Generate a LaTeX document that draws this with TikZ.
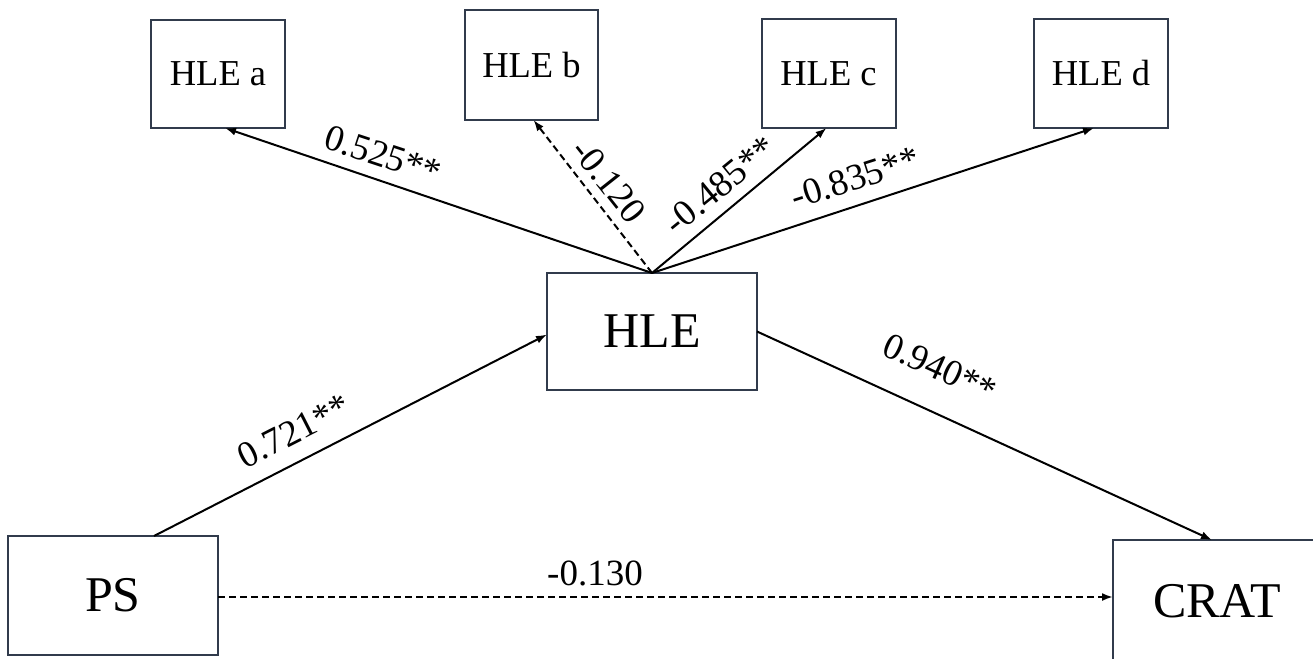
\documentclass[tikz,border=0pt]{standalone}
\usepackage{fontspec}
\setmainfont{Liberation Serif}
\usetikzlibrary{arrows.meta,calc}
\definecolor{boxline}{HTML}{313B4C}
\tikzset{
  smallbox/.style={draw=boxline,line width=2pt,inner sep=0pt,outer sep=0pt,font=\fontsize{36.5}{40}\selectfont},
  bigbox/.style={draw=boxline,line width=2pt,inner sep=0pt,outer sep=0pt,font=\fontsize{50}{54}\selectfont},
  link/.style={draw=black,line width=2pt,-{Latex[length=11pt,width=8pt]}},
  dlink/.style={link,dash pattern=on 7pt off 4pt},
  coef/.style={font=\fontsize{37}{40}\selectfont,inner sep=0pt}
}
\begin{document}
\begin{tikzpicture}[x=1pt,y=-1pt]
\useasboundingbox (0,0) rectangle (1313,658);
\clip (0,0) rectangle (1313,658);
\fill[white] (0,0) rectangle (1313,658);
% nodes
\node[smallbox,minimum width=134pt,minimum height=108pt] (hlea) at (218,74) {HLE a};
\node[smallbox,minimum width=133pt,minimum height=110pt] (hleb) at (531.5,65) {HLE b};
\node[smallbox,minimum width=134pt,minimum height=109pt] (hlec) at (828.5,73.5) {HLE c};
\node[smallbox,minimum width=134pt,minimum height=109pt] (hled) at (1101,73.5) {HLE d};
\node[bigbox,minimum width=210pt,minimum height=117pt] (hle) at (652,331.5) {HLE};
\node[bigbox,minimum width=210pt,minimum height=119pt] (ps) at (113,595.5) {PS};
\node[bigbox,minimum width=208pt,minimum height=122pt] (crat) at (1217,601) {CRAT};
% connectors
\draw[link] (hle.north) -- ([xshift=7pt]hlea.south);
\draw[dlink] (hle.north) -- ([xshift=2pt]hleb.south);
\draw[link] (hle.north) -- ([xshift=-2pt]hlec.south);
\draw[link] (hle.north) -- ([xshift=-7pt]hled.south);
\draw[link] ([xshift=41pt]ps.north) -- ([yshift=-3pt]hle.west);
\draw[link] (hle.east) -- ([xshift=-5pt]crat.north);
\draw[dlink] ([yshift=-1.5pt]ps.east) -- ([yshift=-1.5pt]ps.east -| crat.west);
% coefficients
\node[coef,rotate=-18.3] (ca) at (383,155) {0.525**};
\node[coef,rotate=-51.6] (cb) at (609,181) {-0.120};
\node[coef,rotate=39.2] (cc) at (720,185) {-0.485**};
\node[coef,rotate=17.8] (cd) at (855,178) {-0.835**};
\node[coef,rotate=27] (ce) at (294,431) {0.721**};
\node[coef,rotate=-24.5] (cf) at (940,368) {0.940**};
\node[coef] (cg) at (595,573) {-0.130};
\end{tikzpicture}
\end{document}
